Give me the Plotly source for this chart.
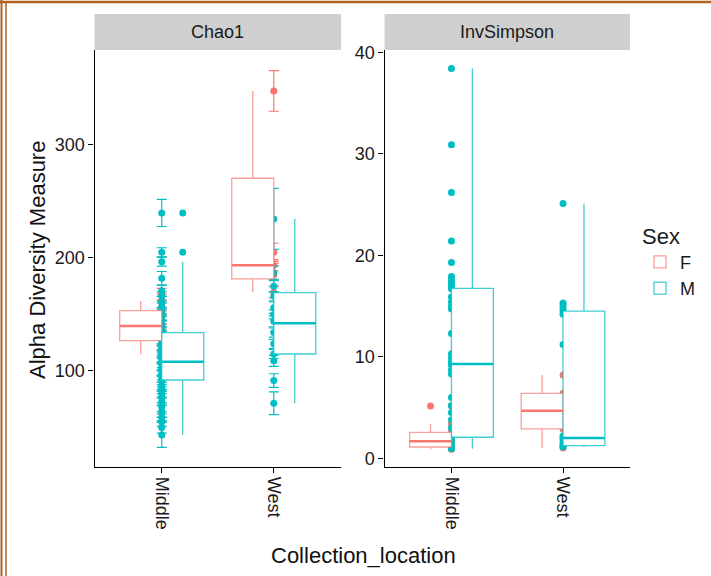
import plotly.graph_objects as go

W, H = 711, 576

# ---------------- data ----------------
locations = ["Middle", "West"]
sexes = ["F", "M"]
sex_colors = ["#F8766D", "#00BFC4"]
sex_box_lines = ["rgba(248,118,109,0.7)", "rgba(0,191,196,0.75)"]
metrics = ["Chao1", "InvSimpson"]

# Chao1 per-sample estimates and standard errors
chao1_F_middle = [168, 161.9, 157, 150, 146, 140, 137, 132, 127, 122, 114.8]
chao1_F_middle_se = [5, 6, 4, 5, 4, 5, 4, 5, 4, 5, 7]
chao1_M_middle = [239.8, 205, 196.7, 182, 171, 166, 161, 157, 152, 148,
                  144, 140, 136, 131, 127, 124, 121, 118, 115, 112,
                  110, 107, 104, 101, 98, 96, 93, 91, 87, 84,
                  80, 77, 73, 68, 64, 59, 55, 50, 43.4]
chao1_M_middle_se = [12, 4, 4, 6, 5, 4, 5, 3, 4, 3,
                     5, 4, 3, 4, 3, 5, 3, 4, 3, 4,
                     3, 4, 3, 5, 3, 4, 3, 5, 3, 4,
                     3, 5, 3, 4, 5, 3, 4, 5, 11]
chao1_F_west = [347.8, 205, 193.5, 185, 169.6]
chao1_F_west_se = [18, 8, 5, 10, 5]
chao1_M_west = [234.5, 187, 175, 166, 156, 150, 144, 134, 124, 115, 109, 91.5, 71.4]
chao1_M_west_se = [27, 6, 5, 4, 5, 4, 5, 4, 4, 4, 5, 6, 10]

# InvSimpson per-sample values
inv_F_middle = [5.15, 3.41, 2.6, 2.3, 1.9, 1.67, 1.4, 1.11, 0.9]
inv_M_middle = [38.4, 30.9, 26.2, 21.4, 19.3, 17.9, 17.6, 17.3, 17.0, 16.7,
                15.9, 15.4, 15.0, 14.7, 12.3, 10.3, 9.9, 9.5, 9.2, 8.7,
                8.3, 6.0, 5.2, 4.5, 3.8, 3.0, 2.4, 2.0, 1.8, 1.5, 1.2, 0.95]
inv_F_west = [8.2, 6.4, 4.69, 2.89, 1.0]
inv_M_west = [25.1, 15.3, 15.1, 14.8, 14.5, 14.2, 11.2, 2.2, 2.0, 1.8, 1.5, 1.3, 1.2, 1.1]

# Box statistics (per location: Middle, West)
chao1_lo_F = [114.8, 169.6]; chao1_q1_F = [126.8, 181.4]; chao1_med_F = [139.8, 193.5]
chao1_q3_F = [153.4, 270.5]; chao1_hi_F = [161.9, 347.8]
chao1_lo_M = [43.4, 71.4]; chao1_q1_M = [92.0, 115.0]; chao1_med_M = [108.2, 142.2]
chao1_q3_M = [133.9, 169.3]; chao1_hi_M = [196.7, 234.5]
chao1_out_M_middle = [239.8, 205]

inv_lo_F = [0.9, 1.0]; inv_q1_F = [1.11, 2.89]; inv_med_F = [1.67, 4.69]
inv_q3_F = [2.56, 6.4]; inv_hi_F = [3.41, 8.2]
inv_lo_M = [0.95, 1.1]; inv_q1_M = [2.07, 1.24]; inv_med_M = [9.29, 2.0]
inv_q3_M = [16.75, 14.5]; inv_hi_M = [38.4, 25.1]
inv_out_F_middle = [5.15]

chao1_ticks = [100, 200, 300]
inv_ticks = [0, 10, 20, 30, 40]

# ---------------- layout helpers ----------------
def px_x(v):
    return v / W

def px_y(v):
    return 1 - v / H

panel_x = [(94.5, 341.0), (384.5, 630.0)]
panel_top, panel_bottom = 50.0, 467.0
strip_top = 14.0
xr = [0.4, 2.6]
yranges = [[15, 384], [-0.86, 40.23]]
box_w = 0.375
dodge = [-0.1875, 0.1875]
loc_pos = [i + 1 for i in range(len(locations))]

fig = go.Figure()

over_axes = [("x3", "y3"), ("x4", "y4")]

# ---------------- points (bottom layer) ----------------
chao_points = [
    [(chao1_F_middle, chao1_F_middle_se), (chao1_F_west, chao1_F_west_se)],
    [(chao1_M_middle, chao1_M_middle_se), (chao1_M_west, chao1_M_west_se)],
]
inv_points = [[inv_F_middle, inv_F_west], [inv_M_middle, inv_M_west]]

for si, sex in enumerate(sexes):
    for li, loc in enumerate(locations):
        vals, se = chao_points[si][li]
        fig.add_trace(go.Scatter(
            x=[loc_pos[li]] * len(vals), y=vals, mode="markers",
            marker=dict(color=sex_colors[si], size=7),
            error_y=dict(type="data", array=se, visible=True,
                         color=sex_colors[si], thickness=1.2, width=5),
            xaxis="x", yaxis="y", showlegend=False, legendgroup=sex, name=sex))
        vals2 = inv_points[si][li]
        fig.add_trace(go.Scatter(
            x=[loc_pos[li]] * len(vals2), y=vals2, mode="markers",
            marker=dict(color=sex_colors[si], size=7),
            xaxis="x2", yaxis="y2", showlegend=False, legendgroup=sex, name=sex))

# ---------------- boxes (overlay layer) ----------------
box_stats = [
    [  # Chao1
        (chao1_lo_F, chao1_q1_F, chao1_med_F, chao1_q3_F, chao1_hi_F),
        (chao1_lo_M, chao1_q1_M, chao1_med_M, chao1_q3_M, chao1_hi_M),
    ],
    [  # InvSimpson
        (inv_lo_F, inv_q1_F, inv_med_F, inv_q3_F, inv_hi_F),
        (inv_lo_M, inv_q1_M, inv_med_M, inv_q3_M, inv_hi_M),
    ],
]

for pi in range(2):
    xa, ya = over_axes[pi]
    for si, sex in enumerate(sexes):
        lo, q1, med, q3, hi = box_stats[pi][si]
        xs = [p + dodge[si] for p in loc_pos]
        fig.add_trace(go.Box(
            x=xs, lowerfence=lo, q1=q1, median=med, q3=q3, upperfence=hi,
            width=box_w, orientation="v", boxpoints=False, whiskerwidth=0,
            line=dict(color=sex_box_lines[si], width=1.3), fillcolor="white",
            xaxis=xa, yaxis=ya, name=sex, legendgroup=sex,
            showlegend=(pi == 0), hoverinfo="skip"))
        # thicker median segments
        mx, my = [], []
        for k, x in enumerate(xs):
            mx += [x - box_w / 2, x + box_w / 2, None]
            my += [med[k], med[k], None]
        fig.add_trace(go.Scatter(
            x=mx, y=my, mode="lines", line=dict(color=sex_colors[si], width=2.4),
            xaxis=xa, yaxis=ya, showlegend=False, hoverinfo="skip"))

# outliers at box centres
fig.add_trace(go.Scatter(
    x=[loc_pos[0] + dodge[1]] * len(chao1_out_M_middle), y=chao1_out_M_middle,
    mode="markers", marker=dict(color=sex_colors[1], size=7),
    xaxis="x3", yaxis="y3", showlegend=False))
fig.add_trace(go.Scatter(
    x=[loc_pos[0] + dodge[0]] * len(inv_out_F_middle), y=inv_out_F_middle,
    mode="markers", marker=dict(color=sex_colors[0], size=7),
    xaxis="x4", yaxis="y4", showlegend=False))

# ---------------- axes ----------------
FONT = "Liberation Sans, Arial, sans-serif"
ydom = [px_y(panel_bottom), px_y(panel_top)]
common_x = dict(range=xr, tickvals=loc_pos, ticktext=locations, tickangle=90,
                showline=True, linecolor="black", linewidth=1.3, ticks="outside",
                ticklen=5, tickcolor="black", tickwidth=1.2, showgrid=False,
                zeroline=False, automargin=False,
                tickfont=dict(size=18, color="#1a1a1a", family=FONT))
common_y = dict(showline=True, linecolor="black", linewidth=1.3, ticks="outside",
                ticklen=5, tickcolor="black", tickwidth=1.2, showgrid=False,
                zeroline=False, automargin=False, ticksuffix="\u00a0\u00a0",
                tickfont=dict(size=18, color="#1a1a1a", family=FONT))

fig.update_layout(
    xaxis=dict(domain=[px_x(panel_x[0][0]), px_x(panel_x[0][1])], anchor="y", **common_x),
    yaxis=dict(domain=ydom, anchor="x", range=yranges[0], tickvals=chao1_ticks, **common_y),
    xaxis2=dict(domain=[px_x(panel_x[1][0]), px_x(panel_x[1][1])], anchor="y2", **common_x),
    yaxis2=dict(domain=ydom, anchor="x2", range=yranges[1], tickvals=inv_ticks, **common_y),
    xaxis3=dict(overlaying="x", anchor="y3", range=xr, visible=False, automargin=False),
    yaxis3=dict(overlaying="y", anchor="x3", range=yranges[0], visible=False, automargin=False),
    xaxis4=dict(overlaying="x2", anchor="y4", range=xr, visible=False, automargin=False),
    yaxis4=dict(overlaying="y2", anchor="x4", range=yranges[1], visible=False, automargin=False),
)

# ---------------- strips, titles, border ----------------
shapes = []
annotations = []
for pi in range(2):
    x0, x1 = panel_x[pi]
    shapes.append(dict(type="rect", xref="paper", yref="paper",
                       x0=px_x(x0), x1=px_x(x1), y0=px_y(panel_top), y1=px_y(strip_top),
                       fillcolor="#CFCFCF", line=dict(width=0), layer="below"))
    annotations.append(dict(text=metrics[pi], xref="paper", yref="paper",
                            x=px_x((x0 + x1) / 2), y=px_y((strip_top + panel_top) / 2),
                            xanchor="center", yanchor="middle",
                            showarrow=False, font=dict(size=18, color="#1a1a1a", family=FONT)))

annotations.append(dict(text="Alpha Diversity Measure", xref="paper", yref="paper",
                        x=px_x(37), y=px_y(260), textangle=-90, showarrow=False,
                        xanchor="center", yanchor="middle",
                        font=dict(size=22, color="#111", family=FONT)))
annotations.append(dict(text="Collection_location", xref="paper", yref="paper",
                        x=px_x(363), y=px_y(555), showarrow=False,
                        xanchor="center", yanchor="middle",
                        font=dict(size=22, color="#111", family=FONT)))

border = "#B0601E"
shapes.append(dict(type="line", xref="paper", yref="paper", x0=0, x1=1,
                   y0=px_y(2), y1=px_y(2), line=dict(color=border, width=2.5)))
shapes.append(dict(type="line", xref="paper", yref="paper", x0=px_x(1.5), x1=px_x(1.5),
                   y0=0, y1=1, line=dict(color=border, width=2)))
shapes.append(dict(type="line", xref="paper", yref="paper", x0=px_x(6), x1=px_x(6),
                   y0=0, y1=px_y(2), line=dict(color=border, width=1.5)))

fig.update_layout(
    width=W, height=H, margin=dict(l=0, r=0, t=0, b=0, autoexpand=False),
    plot_bgcolor="white", paper_bgcolor="white",
    font=dict(family=FONT, size=18, color="#1a1a1a"),
    shapes=shapes, annotations=annotations,
    legend=dict(title=dict(text="Sex", font=dict(size=22, family=FONT)),
                x=px_x(640), y=px_y(215), xanchor="left", yanchor="top",
                font=dict(size=18, family=FONT), tracegroupgap=0,
                itemwidth=30, bgcolor="rgba(0,0,0,0)"),
)

fig.write_html("out.html")
